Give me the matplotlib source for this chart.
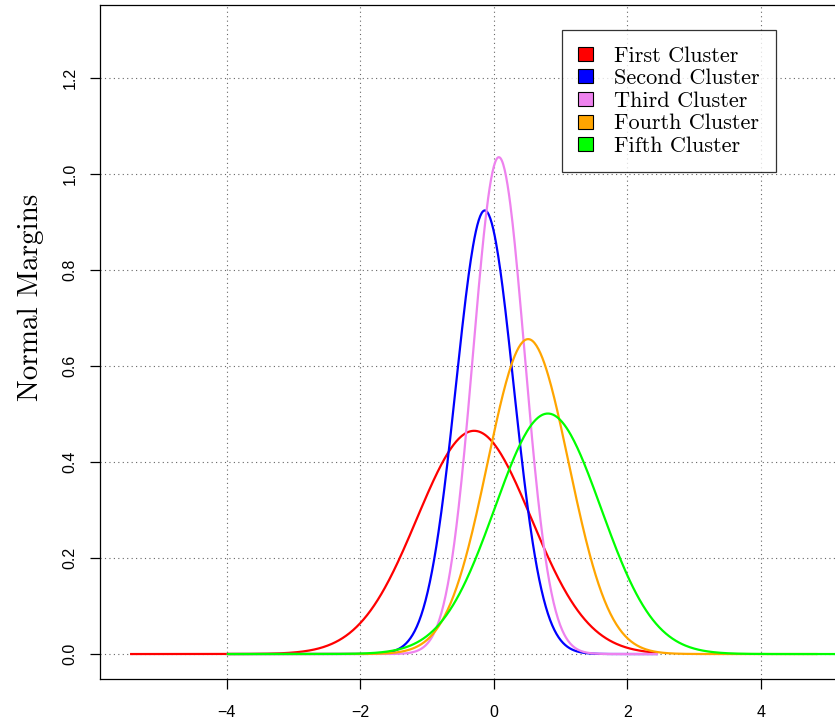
import numpy as np
import matplotlib
matplotlib.use('Agg')
import matplotlib.pyplot as plt
from matplotlib.patches import Patch

# cluster margins: normal density parameters
labels = ['First Cluster', 'Second Cluster', 'Third Cluster', 'Fourth Cluster', 'Fifth Cluster']
colors = ['#FF0000', '#0000FF', '#EE82EE', '#FFA500', '#00FF00']
means = [-0.295, -0.135, 0.075, 0.514, 0.81]
peaks = [0.465, 0.924, 1.035, 0.656, 0.501]
x_start = [-5.45, -4.0, -4.0, -4.0, -4.0]
x_end = [2.46, 2.46, 2.46, 4.85, 5.8]

xticks = [-4, -2, 0, 2, 4]
yticks = [0.0, 0.2, 0.4, 0.6, 0.8, 1.0, 1.2]

W, H = 835, 719
fig = plt.figure(figsize=(W / 100, H / 100), dpi=100)
# plot region runs past the right edge of the picture (cropped original)
ax = fig.add_axes([100 / W, 1 - 679 / H, 811 / W, 674 / H])

for lab, col, m, pk, a, b in zip(labels, colors, means, peaks, x_start, x_end):
    sd = 1 / (pk * np.sqrt(2 * np.pi))
    xs = np.linspace(a, b, 600)
    ys = np.exp(-0.5 * ((xs - m) / sd) ** 2) / (sd * np.sqrt(2 * np.pi))
    ax.plot(xs, ys, color=col, lw=1.6, solid_capstyle='butt')

ax.set_xlim(-5.9, 6.25)
ax.set_ylim(-0.052, 1.352)
ax.set_xticks(xticks)
ax.set_yticks(yticks)
ax.set_xticklabels(['\u2212' + str(abs(t)) if t < 0 else str(t) for t in xticks],
                   family='Liberation Sans', fontsize=11.5)
ax.set_yticklabels(['%.1f' % t for t in yticks], family='Liberation Sans',
                   fontsize=11.5, rotation=90, va='center')
ax.tick_params(direction='out', length=7, width=0.9, pad=12)
ax.tick_params(axis='y', pad=9)
ax.grid(True, color='#666666', linestyle=(0, (1, 3)), lw=0.8)
ax.set_axisbelow(True)
for s in ax.spines.values():
    s.set_linewidth(0.9)

fig.text(31 / W, 1 - 297 / H, 'Normal Margins', family='cmr10', fontsize=21,
         rotation=90, ha='center', va='center')

handles = [Patch(facecolor=c, edgecolor='black', linewidth=0.8) for c in colors]
leg = ax.legend(handles, labels, loc='upper left',
                bbox_to_anchor=(562 / W, 1 - 30 / H), bbox_transform=fig.transFigure,
                prop={'family': 'cmr10', 'size': 16}, frameon=True, fancybox=False,
                handlelength=0.68, handleheight=0.6, handletextpad=0.95,
                labelspacing=0.14, borderpad=0.72, borderaxespad=0)
leg.get_frame().set_edgecolor('black')
leg.get_frame().set_linewidth(0.9)

fig.savefig('out.png', dpi=100)
